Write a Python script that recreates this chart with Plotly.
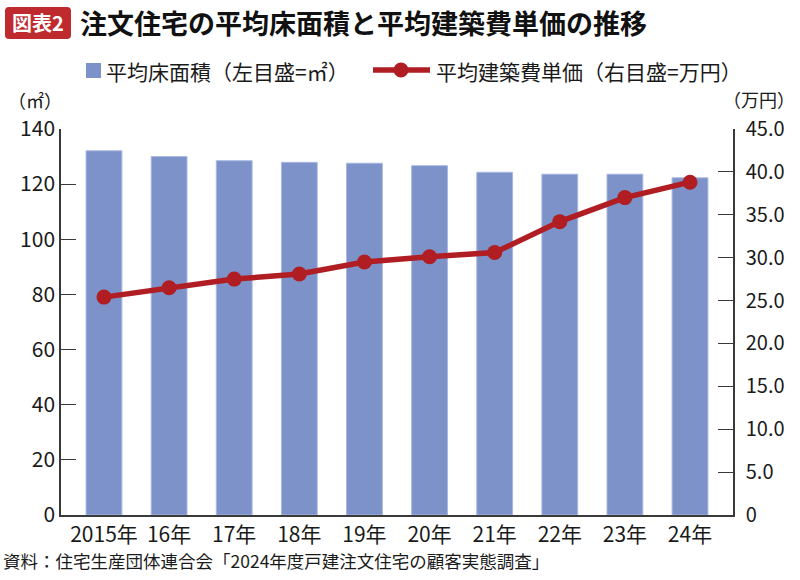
import plotly.graph_objects as go

# data
years = ["2015年", "16年", "17年", "18年", "19年", "20年", "21年", "22年", "23年", "24年"]
floor_area = [132.1, 130.0, 128.5, 127.9, 127.6, 126.7, 124.3, 123.6, 123.6, 122.3]
unit_cost = [25.4, 26.5, 27.5, 28.1, 29.5, 30.1, 30.6, 34.2, 37.0, 38.8]
left_ticks = [0, 20, 40, 60, 80, 100, 120, 140]
right_ticks = [0, 5, 10, 15, 20, 25, 30, 35, 40, 45]
right_labels = ["0", "5.0", "10.0", "15.0", "20.0", "25.0", "30.0", "35.0", "40.0", "45.0"]

font = "Noto Sans CJK JP"
axis_col = "#3a3a3a"
bar_col = "#7D92C8"
line_col = "#B01E24"

# plot area in pixels
L, R, T, B = 61, 733, 129, 515


def px_x(v):
    return (v - L) / (R - L)


def px_y(v):
    return (B - v) / (B - T)


fig = go.Figure()
fig.add_trace(go.Bar(
    x=years, y=floor_area, name="平均床面積（左目盛=㎡）",
    marker=dict(color=bar_col, line=dict(color="#A8B8E2", width=1)),
))
fig.add_trace(go.Scatter(
    x=years, y=unit_cost, name="平均建築費単価（右目盛=万円）", yaxis="y2",
    mode="lines+markers",
    line=dict(color=line_col, width=5.5),
    marker=dict(color=line_col, size=15),
))

fig.update_layout(
    width=800, height=580,
    margin=dict(l=L, r=800 - R, t=T, b=580 - B),
    paper_bgcolor="white", plot_bgcolor="white",
    font=dict(family=font, size=20, color="#1a1a1a"),
    bargap=0.45,
    showlegend=False,
    xaxis=dict(showline=True, linecolor=axis_col, linewidth=1.5, ticks="",
               tickfont=dict(size=21)),
    yaxis=dict(range=[0, 140], tickvals=left_ticks, showline=True, linecolor=axis_col,
               linewidth=1.5, ticks="inside", ticklen=15, tickcolor=axis_col,
               showgrid=False, zeroline=False, tickfont=dict(size=21)),
    yaxis2=dict(range=[0, 45], tickvals=right_ticks, ticktext=right_labels,
                overlaying="y", side="right", showline=True, linecolor=axis_col,
                linewidth=1.5, ticks="inside", ticklen=15, tickcolor=axis_col,
                showgrid=False, zeroline=False, tickfont=dict(size=20),
                ticklabelstandoff=7),
)

# title badge
x0, x1, y0, y1, r = 5, 71, 7, 39, 4
badge = (f"M{px_x(x0 + r)},{px_y(y0)} L{px_x(x1 - r)},{px_y(y0)} "
         f"Q{px_x(x1)},{px_y(y0)} {px_x(x1)},{px_y(y0 + r)} L{px_x(x1)},{px_y(y1 - r)} "
         f"Q{px_x(x1)},{px_y(y1)} {px_x(x1 - r)},{px_y(y1)} L{px_x(x0 + r)},{px_y(y1)} "
         f"Q{px_x(x0)},{px_y(y1)} {px_x(x0)},{px_y(y1 - r)} L{px_x(x0)},{px_y(y0 + r)} "
         f"Q{px_x(x0)},{px_y(y0)} {px_x(x0 + r)},{px_y(y0)} Z")
fig.add_shape(type="path", path=badge, xref="paper", yref="paper",
              fillcolor="#BE2A2E", line=dict(width=0), layer="above")
fig.add_annotation(text="<b>図表2</b>", x=px_x(38), y=px_y(23), xref="paper", yref="paper",
                   xanchor="center", yanchor="middle", showarrow=False,
                   font=dict(size=20, color="white", family=font))
fig.add_annotation(text="<b>注文住宅の平均床面積と平均建築費単価の推移</b>", x=px_x(78), y=px_y(23),
                   xref="paper", yref="paper", xanchor="left", yanchor="middle", showarrow=False,
                   font=dict(size=27, color="#111", family=font))

# legend drawn by hand
fig.add_shape(type="rect", xref="paper", yref="paper",
              x0=px_x(86), x1=px_x(101), y0=px_y(63), y1=px_y(78),
              fillcolor=bar_col, line=dict(width=0))
fig.add_annotation(text="平均床面積（左目盛=㎡）", x=px_x(104), y=px_y(71), xref="paper", yref="paper",
                   xanchor="left", yanchor="middle", showarrow=False, font=dict(size=21))
fig.add_shape(type="line", xref="paper", yref="paper",
              x0=px_x(373), x1=px_x(430), y0=px_y(70), y1=px_y(70),
              line=dict(color=line_col, width=5.5))
fig.add_shape(type="circle", xref="paper", yref="paper",
              x0=px_x(393.5), x1=px_x(408.5), y0=px_y(62.5), y1=px_y(77.5),
              fillcolor=line_col, line=dict(width=0))
fig.add_annotation(text="平均建築費単価（右目盛=万円）", x=px_x(434), y=px_y(71), xref="paper", yref="paper",
                   xanchor="left", yanchor="middle", showarrow=False, font=dict(size=21))

# axis units and source
fig.add_annotation(text="（㎡）", x=px_x(6), y=px_y(100), xref="paper", yref="paper",
                   xanchor="left", yanchor="middle", showarrow=False, font=dict(size=18))
fig.add_annotation(text="（万円）", x=px_x(797), y=px_y(99), xref="paper", yref="paper",
                   xanchor="right", yanchor="middle", showarrow=False, font=dict(size=18))
fig.add_annotation(text="資料：住宅生産団体連合会「2024年度戸建注文住宅の顧客実態調査」",
                   x=px_x(1), y=px_y(560), xref="paper", yref="paper",
                   xanchor="left", yanchor="middle", showarrow=False, font=dict(size=17.5))

fig.write_html("out.html", config={"displayModeBar": False},
               post_script="document.body.style.margin='0';")
